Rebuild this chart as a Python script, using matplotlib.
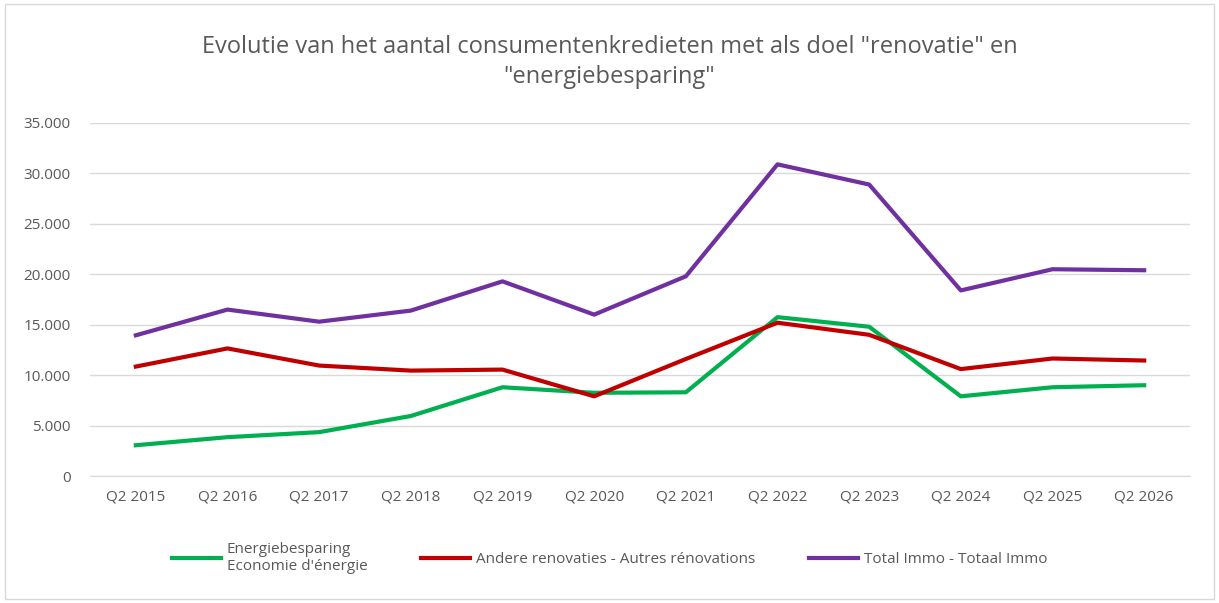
import matplotlib
matplotlib.use('Agg')
import matplotlib.pyplot as plt
from matplotlib.ticker import FuncFormatter
from matplotlib.patches import Rectangle

quarters = ["Q2 2015", "Q2 2016", "Q2 2017", "Q2 2018", "Q2 2019", "Q2 2020",
            "Q2 2021", "Q2 2022", "Q2 2023", "Q2 2024", "Q2 2025", "Q2 2026"]
energie = [3050, 3850, 4350, 5950, 8800, 8250, 8300, 15750, 14800, 7900, 8800, 9000]
renovaties = [10850, 12650, 10950, 10450, 10550, 7900, 11600, 15200, 14000, 10600, 11650, 11450]
totaal = [13950, 16500, 15300, 16400, 19300, 16000, 19800, 30900, 28900, 18400, 20500, 20400]

plt.rcParams['font.family'] = ['Open Sans', 'DejaVu Sans']

fig = plt.figure(figsize=(12.19, 6.03), dpi=100)
ax = fig.add_axes([90/1219, 1 - 476/603, 1100/1219, 353/603])
fig.patches.append(Rectangle((0.004, 0.007), 0.992, 0.986, transform=fig.transFigure,
                             fill=False, edgecolor='#d9d9d9', linewidth=1))

x = range(len(quarters))
ax.plot(x, energie, color='#00b050', lw=3, label="Energiebesparing\nEconomie d'énergie")
ax.plot(x, renovaties, color='#c00000', lw=3, label="Andere renovaties - Autres rénovations")
ax.plot(x, totaal, color='#7030a0', lw=3, label="Total Immo - Totaal Immo")

ax.set_xlim(-0.5, len(quarters) - 0.5)
ax.set_ylim(0, 35000)
ax.set_yticks(range(0, 35001, 5000))
ax.yaxis.set_major_formatter(FuncFormatter(lambda v, p: f"{int(v):,}".replace(',', '.')))
ax.set_xticks(list(x))
ax.set_xticklabels(quarters)
ax.grid(axis='y', color='#d9d9d9', lw=1)
ax.set_axisbelow(True)
for s in ['top', 'right', 'left']:
    ax.spines[s].set_visible(False)
ax.spines['bottom'].set_color('#d9d9d9')
ax.tick_params(length=0, labelsize=11, colors='#595959')
ax.tick_params(axis='x', pad=10)
ax.tick_params(axis='y', pad=14)

fig.text(0.5, 1 - 62/603, 'Evolutie van het aantal consumentenkredieten met als doel "renovatie" en\n"energiebesparing"',
         ha='center', va='center', fontsize=17, color='#595959', linespacing=1.3)

fig.legend(loc='upper center', bbox_to_anchor=(0.5, 1 - 528/603), ncol=3, frameon=False,
           fontsize=11, handlelength=3.2, handletextpad=0.4, columnspacing=3.5,
           labelcolor='#595959')

fig.savefig('out.png', dpi=100)
